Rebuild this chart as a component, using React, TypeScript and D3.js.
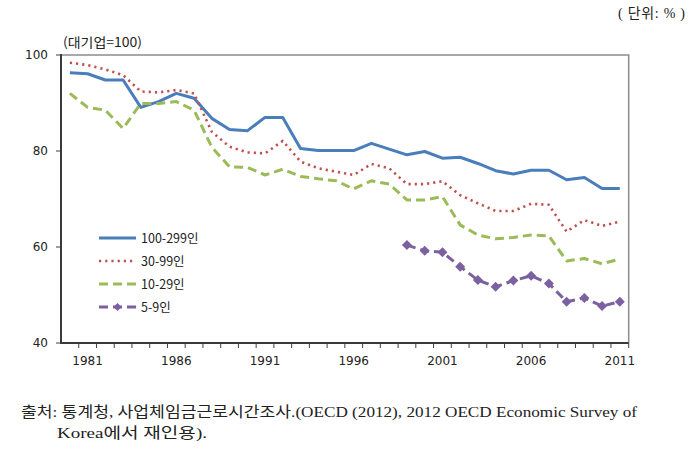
import React from "react";
import * as d3 from "d3";

const years = d3.range(1980, 2012).map(String);
const xTickLabels = ["1981", "1986", "1991", "1996", "2001", "2006", "2011"];
const yTicks = [40, 60, 80, 100];

const large = [96.3, 96.1, 94.8, 94.8, 89.1, 90.3, 92.0, 91.0, 86.8, 84.5, 84.2, 87.0, 87.0, 80.5, 80.1, 80.1, 80.1, 81.6, 80.4, 79.2, 79.9, 78.5, 78.7, 77.4, 75.9, 75.2, 76.0, 76.0, 74.0, 74.5, 72.2, 72.2];
const medium = [98.4, 97.9, 97.0, 95.8, 92.4, 92.2, 92.7, 92.0, 84.0, 80.9, 79.7, 79.5, 82.1, 77.8, 76.4, 75.7, 75.0, 77.3, 76.4, 73.1, 73.1, 73.7, 70.8, 69.1, 67.5, 67.5, 69.0, 68.8, 63.2, 65.6, 64.4, 65.3];
const small = [92.0, 89.1, 88.5, 84.7, 89.9, 89.9, 90.3, 88.5, 80.8, 76.7, 76.6, 75.0, 76.2, 74.7, 74.2, 73.8, 72.1, 73.8, 73.1, 69.8, 69.8, 70.5, 64.6, 62.5, 61.7, 62.0, 62.5, 62.3, 57.1, 57.6, 56.5, 57.5];
const microYears = d3.range(1999, 2012).map(String);
const micro = [60.4, 59.2, 58.9, 55.9, 53.1, 51.7, 53.0, 54.0, 52.4, 48.6, 49.4, 47.7, 48.6];

const seriesNames = ["100-299인", "30-99인", "10-29인", "5-9인"];

const W = 695, H = 456;
const plot = { left: 61, right: 628.7, top: 55, bottom: 343 };

export default function App() {
  const x = d3.scaleBand<string>().domain(years).range([plot.left, plot.right]).paddingInner(0).paddingOuter(0);
  const cx = (yr: string) => (x(yr) as number) + x.bandwidth() / 2;
  const y = d3.scaleLinear().domain([40, 100]).range([plot.bottom, plot.top]);

  const line = d3.line<[string, number]>().x((d) => cx(d[0])).y((d) => y(d[1]));

  const styles = [
    { color: "#4a7ebb", width: 3, dash: undefined as string | undefined },
    { color: "#c0504d", width: 2.6, dash: "2.2,4" },
    { color: "#9bbb59", width: 3, dash: "9,5" },
    { color: "#7b61a0", width: 3, dash: "9,5" },
  ];

  const datasets: [string, number][][] = [
    years.map((yr, i) => [yr, large[i]] as [string, number]),
    years.map((yr, i) => [yr, medium[i]] as [string, number]),
    years.map((yr, i) => [yr, small[i]] as [string, number]),
    microYears.map((yr, i) => [yr, micro[i]] as [string, number]),
  ];

  const diamond = (px: number, py: number, r: number) =>
    `M${px},${py - r}L${px + r},${py}L${px},${py + r}L${px - r},${py}Z`;

  const boundaries = years.slice(1).map((yr) => x(yr) as number).concat([plot.right]);

  const sans = "'DejaVu Sans', 'Noto Sans CJK KR', sans-serif";
  const kr = "'Noto Sans CJK KR', 'DejaVu Sans', sans-serif";
  const serif = "'Liberation Serif', 'DejaVu Serif', 'Noto Sans CJK KR', serif";

  const legendY = [238, 261, 284, 307];

  return (
    <svg width={W} height={H} style={{ position: "absolute", left: 0, top: 0, background: "#fff" }}>
      <rect x={0} y={0} width={W} height={H} fill="#fff" />
      {/* unit */}
      <text x={618} y={18} fontFamily={serif} fontSize={14} fill="#222" textLength={67} lengthAdjust="spacing">( 단위: % )</text>
      {/* y title */}
      <text x={63} y={47} fontFamily={kr} fontSize={13} fill="#222" textLength={79} lengthAdjust="spacingAndGlyphs">(대기업=100)</text>

      {/* plot border top/right */}
      <path d={`M${plot.left},${plot.top}H${plot.right}V${plot.bottom}`} fill="none" stroke="#8c8c8c" strokeWidth={1.5} />

      {/* y axis ticks and labels */}
      {yTicks.map((t) => (
        <g key={t}>
          <line x1={plot.left - 5} x2={plot.left} y1={y(t)} y2={y(t)} stroke="#404040" strokeWidth={1} />
          <text x={48} y={y(t)} dy="0.35em" textAnchor="end" fontFamily={sans} fontSize={12} fill="#222">{t}</text>
        </g>
      ))}
      {/* x ticks */}
      {boundaries.map((bx, i) => (
        <line key={i} x1={bx} x2={bx} y1={plot.bottom} y2={plot.bottom + 5} stroke="#404040" strokeWidth={1} />
      ))}
      {xTickLabels.map((lab) => (
        <text key={lab} x={cx(lab)} y={365} textAnchor="middle" fontFamily={sans} fontSize={12} fill="#222">{lab}</text>
      ))}

      {/* axes */}
      <line x1={plot.left} x2={plot.left} y1={plot.top - 1} y2={plot.bottom + 1} stroke="#3a3a3a" strokeWidth={2} />
      <line x1={plot.left - 1} x2={plot.right} y1={plot.bottom} y2={plot.bottom} stroke="#3a3a3a" strokeWidth={2} />

      {/* series */}
      {datasets.map((data, i) => (
        <path key={i} d={line(data) || ""} fill="none" stroke={styles[i].color} strokeWidth={styles[i].width}
          strokeDasharray={styles[i].dash} strokeLinejoin="round" />
      ))}
      {datasets[3].map((d, i) => (
        <path key={i} d={diamond(cx(d[0]), y(d[1]), 5)} fill={styles[3].color} />
      ))}

      {/* legend */}
      {seriesNames.map((name, i) => (
        <g key={name}>
          <line x1={99} x2={136} y1={legendY[i]} y2={legendY[i]} stroke={styles[i].color} strokeWidth={styles[i].width}
            strokeDasharray={styles[i].dash} />
          {i === 3 && <path d={diamond(117.5, legendY[i], 4)} fill={styles[3].color} />}
          <text x={141} y={legendY[i]} dy="0.38em" fontFamily={kr} fontSize={12.5} fill="#222">{name}</text>
        </g>
      ))}

      {/* source note */}
      <text x={21} y={417} fontFamily={serif} fontSize={15} fill="#222" textLength={616} lengthAdjust="spacingAndGlyphs">
        출처: 통계청, 사업체임금근로시간조사.(OECD (2012), 2012 OECD Economic Survey of
      </text>
      <text x={57} y={438} fontFamily={serif} fontSize={15} fill="#222" textLength={150} lengthAdjust="spacingAndGlyphs">
        Korea에서 재인용).
      </text>
    </svg>
  );
}
